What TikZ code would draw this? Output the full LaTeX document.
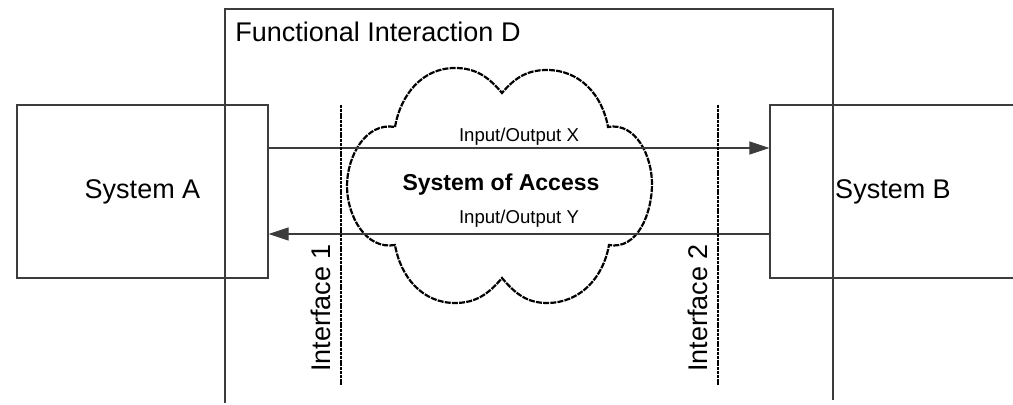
\documentclass[tikz,border=0pt]{standalone}
\usepackage{xcolor}
\usepackage{fontspec}
\setmainfont{Liberation Sans}
\definecolor{LineGray}{RGB}{60, 60, 60}
\usepackage{tikz}
\usetikzlibrary{arrows.meta, positioning, calc}

\tikzset{
    sysbox/.style={draw=LineGray, line width=0.6pt, minimum height=86.5pt,
        font=\fontsize{13.5}{15}\selectfont},
    flow/.style={draw=LineGray, line width=0.55pt, -{Triangle[length=10pt, width=6.5pt]}},
    iolabel/.style={font=\fontsize{9.3}{10}\selectfont, inner sep=0pt},
    ifline/.style={line width=1.2pt, dash pattern=on 1.5pt off 0.4pt},
    iflabel/.style={rotate=90, font=\fontsize{13.5}{15}\selectfont}
}

\begin{document}
\begin{tikzpicture}[x=0.5pt, y=0.5pt]
                \useasboundingbox (0,0) rectangle (1013,405);
                % functional interaction frame, open at the bottom
                \draw[LineGray, line width=0.6pt] (225,2) -- (225,396) -- (833,396) -- (833,5);
                \node[anchor=base west, inner sep=0pt, font=\fontsize{13.5}{15}\selectfont] (title) at (235,363) {Functional Interaction D};

                % cloud
                \draw[line width=1.1pt, dash pattern=on 3pt off 0.6pt, fill=white]
                    (395,278) to[out=80,in=180] (455,337) to[out=0,in=130] (502,312)
                    to[out=50,in=180] (547,335) to[out=0,in=100] (608,278)
                    to[out=10,in=90] (652,221) to[out=-90,in=-10] (609,160)
                    to[out=-100,in=0] (547,102) to[out=180,in=-50] (502,127)
                    to[out=-130,in=0] (455,102) to[out=180,in=-80] (395,160)
                    to[out=190,in=-90] (347,219) to[out=90,in=170] cycle;
                \node[font=\fontsize{11.5}{13}\selectfont\bfseries] (access) at (501,220) {System of Access};

                \node[sysbox, minimum width=125.5pt] (sysA) at (142.5,213.5) {System A};
                \node[sysbox, minimum width=123pt] (sysB) at (893,213.5) {System B};

                \draw[flow] ([yshift=21.75pt]sysA.east) -- ([yshift=21.75pt]sysB.west)
                    node[iolabel, midway, above=0.8pt] (ioX) {Input/Output X};
                \draw[flow] ([yshift=-21.25pt]sysB.west) -- ([yshift=-21.25pt]sysA.east)
                    node[iolabel, midway, above=3pt] (ioY) {Input/Output Y};

                % interfaces
                \foreach \x/\n in {341/1, 718/2} {
                    \draw[ifline] (\x,300) -- (\x,19);
                    \node[iflabel, anchor=south] (if\n) at (\x-3,97) {Interface \n};
                }
            \end{tikzpicture}
\end{document}
